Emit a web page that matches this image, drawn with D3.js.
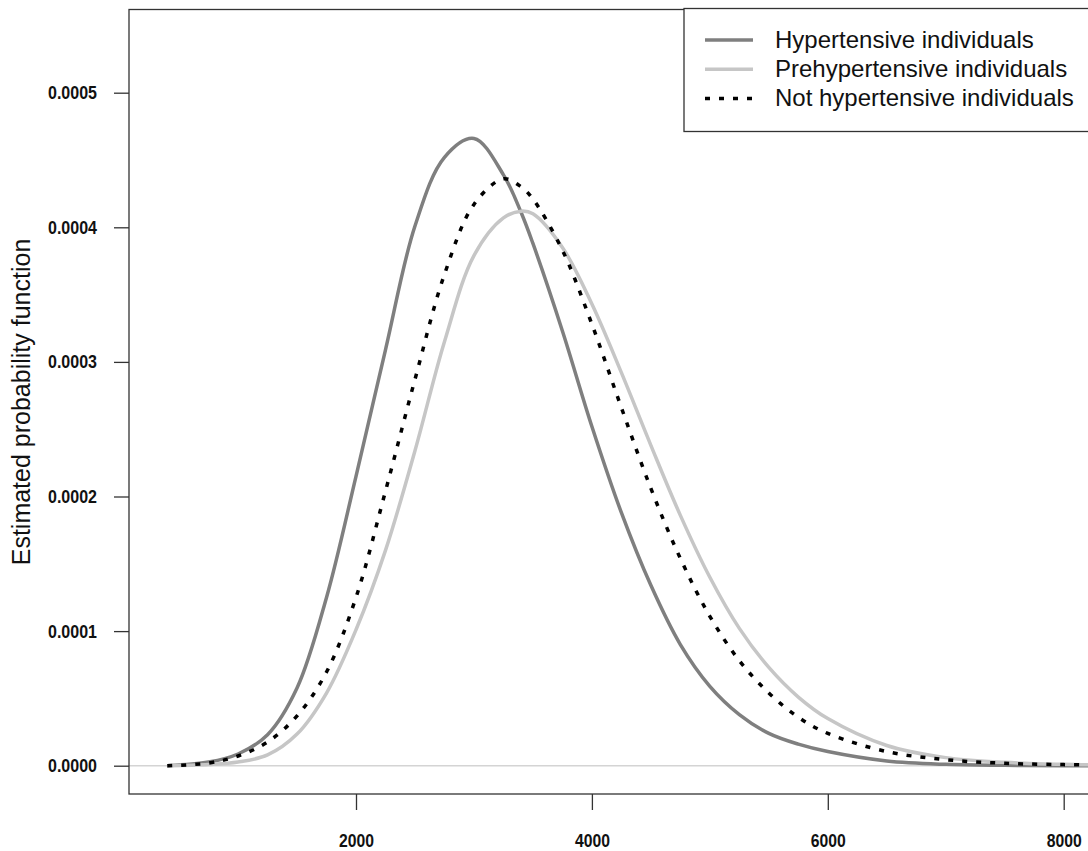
<!DOCTYPE html>
<html>
<head>
<meta charset="utf-8">
<script src="https://cdn.jsdelivr.net/npm/d3@7"></script>
<style>
  body { margin: 0; background: #fff; }
  .tick text { font-family: "Liberation Sans", Arial, sans-serif; font-weight: bold; font-size: 19px; fill: #111; }
  .tick line { stroke: #333; stroke-width: 1.3; }
  .lbl { font-family: "Liberation Sans", Arial, sans-serif; fill: #111; }
</style>
</head>
<body>
<svg width="1088" height="851"></svg>
<script>
const svg = d3.select('svg');

// values
const xs = [400, 750, 1000, 1250, 1500, 1750, 2000, 2250, 2500, 2750, 3000, 3250, 3400, 3500, 3750,
  4000, 4250, 4500, 4750, 5000, 5250, 5500, 5750, 6000, 6500, 7000, 7500, 8000, 8400];
const hypertensive = [0, 0.0000027, 0.0000087, 0.000023, 0.0000577, 0.000125, 0.000215, 0.000309,
  0.000401, 0.000452, 0.000466, 0.000439, 0.000411, 0.000388, 0.000323, 0.000252, 0.000188, 0.000134,
  0.00009, 0.000059, 0.000038, 0.000024, 0.000016, 0.0000105, 0.0000035, 0.000001, 0.0000003, 0, 0];
const prehypertensive = [0, 0.0000009, 0.0000027, 0.000008, 0.0000235, 0.000054, 0.000101, 0.00016,
  0.000234, 0.000315, 0.000379, 0.000407, 0.000412, 0.00041, 0.000385, 0.000343, 0.000292, 0.000238,
  0.000186, 0.00014, 0.000102, 0.000073, 0.000051, 0.000035, 0.000015, 0.000006, 0.0000025, 0.000001, 0.0000004];
const notHypertensive = [0, 0.000002, 0.0000072, 0.0000176, 0.000037, 0.0000696, 0.000125, 0.000204,
  0.000287, 0.000365, 0.000417, 0.000436, 0.00043, 0.000421, 0.000383, 0.000328, 0.000266, 0.000206,
  0.000154, 0.000111, 0.000078, 0.000054, 0.000036, 0.000024, 0.0000105, 0.0000045, 0.0000018, 0.0000008, 0.0000004];
const seriesNames = ['Hypertensive individuals', 'Prehypertensive individuals', 'Not hypertensive individuals'];
const xTicks = [2000, 4000, 6000, 8000];
const yTicks = [0, 0.0001, 0.0002, 0.0003, 0.0004, 0.0005];

const styles = [
  { stroke: '#7f7f7f', dash: null },
  { stroke: '#c6c6c6', dash: null },
  { stroke: '#000', dash: '5,9' }
];
const series = [hypertensive, prehypertensive, notHypertensive];

const box = { left: 129, top: 9.5, right: 1100, bottom: 794 };

const xScale = d3.scaleLinear().domain([2000, 8000]).range([356, 1063.7]);
const yScale = d3.scaleLinear().domain([0, 0.0005]).range([765.7, 92.7]);

svg.append('clipPath').attr('id', 'plot')
  .append('rect')
    .attr('x', box.left).attr('y', box.top)
    .attr('width', box.right - box.left).attr('height', box.bottom - box.top);

// zero line
svg.append('line')
  .attr('x1', box.left).attr('x2', box.right)
  .attr('y1', yScale(0)).attr('y2', yScale(0))
  .attr('stroke', '#d4d4d4').attr('stroke-width', 1.5);

const line = d3.line()
  .x(d => xScale(d[0]))
  .y(d => yScale(d[1]))
  .curve(d3.curveCatmullRom.alpha(0.5));

const g = svg.append('g').attr('clip-path', 'url(#plot)');
series.forEach((vals, i) => {
  g.append('path')
    .datum(xs.map((x, j) => [x, vals[j]]))
    .attr('d', line)
    .attr('fill', 'none')
    .attr('stroke', styles[i].stroke)
    .attr('stroke-width', 3.5)
    .attr('stroke-dasharray', styles[i].dash);
});

// plot frame
svg.append('rect')
  .attr('x', box.left).attr('y', box.top)
  .attr('width', box.right - box.left).attr('height', box.bottom - box.top)
  .attr('fill', 'none').attr('stroke', '#333').attr('stroke-width', 1.3);

const xAxisG = svg.append('g')
  .attr('transform', `translate(0,${box.bottom})`)
  .call(d3.axisBottom(xScale).tickValues(xTicks).tickFormat(d3.format('d'))
    .tickSize(16).tickPadding(23.5));
xAxisG.select('.domain').remove();
xAxisG.selectAll('.tick text')
  .attr('textLength', 35).attr('lengthAdjust', 'spacingAndGlyphs');

const yAxisG = svg.append('g')
  .attr('transform', `translate(${box.left},0)`)
  .call(d3.axisLeft(yScale).tickValues(yTicks).tickFormat(d3.format('.4f'))
    .tickSize(15).tickPadding(17));
yAxisG.select('.domain').remove();
yAxisG.selectAll('.tick text')
  .attr('textLength', 49).attr('lengthAdjust', 'spacingAndGlyphs');

svg.append('text')
  .attr('class', 'lbl')
  .attr('transform', `translate(30,402) rotate(-90)`)
  .attr('text-anchor', 'middle')
  .style('font-size', '25px')
  .text('Estimated probability function');

// legend
const legend = svg.append('g');
legend.append('rect')
  .attr('x', 684).attr('y', 8.5)
  .attr('width', 420).attr('height', 123)
  .attr('fill', '#fff').attr('stroke', '#333').attr('stroke-width', 1.3);

seriesNames.forEach((name, i) => {
  const y = 40 + i * 29.2;
  legend.append('line')
    .attr('x1', 705).attr('x2', 753)
    .attr('y1', y).attr('y2', y)
    .attr('stroke', styles[i].stroke)
    .attr('stroke-width', 3.5)
    .attr('stroke-dasharray', styles[i].dash);
  legend.append('text')
    .attr('class', 'lbl')
    .attr('x', 775).attr('y', y + 8)
    .style('font-size', '24px')
    .text(name);
});
</script>
</body>
</html>
